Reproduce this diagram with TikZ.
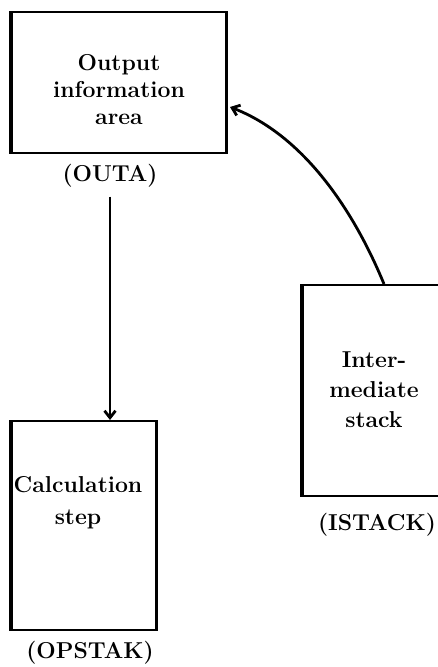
\documentclass[tikz,border=0pt]{standalone}
\usetikzlibrary{arrows.meta,calc}
\begin{document}
\begin{tikzpicture}[x=1pt,y=-1pt,
  box/.style={draw,line width=2pt,inner sep=0pt},
  heavy/.style={line width=3.8pt},
  lbl/.style={font=\fontsize{23}{27}\selectfont\bfseries,align=center,inner sep=0pt},
  flow/.style={line width=2.8pt,-{Straight Barb[length=7pt,width=11pt]}}]
\useasboundingbox (0,0) rectangle (437,667);

% storage areas
\node[box,minimum width=214pt,minimum height=141pt] (outa) at (119,82.5) {};
\node[box,minimum width=144pt,minimum height=209pt] (opstak) at (84,525.5) {};
\node[box,minimum width=160pt,minimum height=211pt] (istack) at (383,390.5) {};

% heavier left edges
\draw[heavy] (outa.north west) -- (outa.south west);
\draw[heavy] (opstak.north west) -- (opstak.south west);
\draw[heavy] (istack.north west) -- (istack.south west);
\draw[line width=2.8pt] (outa.north east) -- (outa.south east);
\draw[line width=2.8pt] (opstak.north east) -- (opstak.south east);

% box texts
\node[lbl] (outatxt) at (119,90) {Output\\information\\area};
\node[lbl] (outaname) at (110,176) {(OUTA)};
\node[lbl] (calctxt) at (78,503) {Calculation\\[5pt]step};
\node[lbl] (opname) at (90,653) {(OPSTAK)};
\node[lbl] (imtxt) at (374,390) {Inter-\\[3pt]mediate\\[3pt]stack};
\node[lbl] (isname) at (377,525) {(ISTACK)};

% connectors
\coordinate (a1) at ($(outaname.south)+(0,9)$);
\draw[flow] (a1) -- (a1 |- opstak.north);

\coordinate (c0) at ($(istack.north west)+(82,0)$);
\coordinate (c3) at ($(outa.north east)+(3,96)$);
\draw[flow] (c0) .. controls ($(c0)+(-33,-80)$) and ($(c3)+(70,27)$) .. (c3);
\end{tikzpicture}
\end{document}
